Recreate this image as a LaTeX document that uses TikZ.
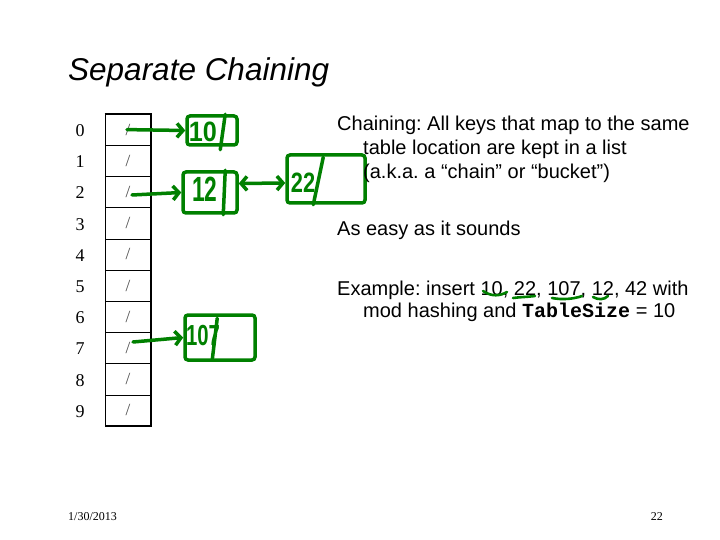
\documentclass[tikz,border=0pt]{standalone}
\usepackage{fontspec}
\setmainfont{Liberation Sans}
\newfontfamily\tnr{Liberation Serif}
\newfontfamily\cour{Liberation Mono}
\newfontfamily\handA[FakeStretch=0.9]{Liberation Sans}
\newfontfamily\handB[FakeStretch=0.65]{Liberation Sans}
\newfontfamily\handC[FakeStretch=0.78]{Liberation Sans}
\newfontfamily\handD[FakeStretch=0.7]{Liberation Sans}
\usetikzlibrary{arrows.meta,calc}
\definecolor{ink}{RGB}{0,128,0}
\frenchspacing
\begin{document}
\begin{tikzpicture}[x=1pt,y=-1pt,
 cell/.style={draw, line width=0.6pt, minimum width=46pt, minimum height=31.2pt, inner sep=0pt, font=\tnr\fontsize{17}{17}\selectfont, text=black!70},
 idx/.style={font=\tnr\fontsize{18}{18}\selectfont, anchor=center, inner sep=0pt},
 body/.style={anchor=base west, font=\fontsize{20}{24}\selectfont, inner sep=0pt},
 inkbox/.style={draw=ink, line width=3.5pt, rounded corners=3pt, inner sep=0pt},
 inktxt/.style={text=ink, inner sep=0pt},
 inkhead/.tip={Straight Barb[length=6pt,width=14pt,line width=3.5pt]},
 inkarrow/.style={draw=ink, line width=3.5pt, -inkhead, line cap=round},
 inkline/.style={draw=ink, line width=3.5pt, line cap=round},
]
\useasboundingbox (0,0) rectangle (720,540);
\fill[white] (0,0) rectangle (720,540);

% title
\node[anchor=base west, inner sep=0pt, font=\itshape\fontsize{31.5}{31.5}\selectfont] (title) at (68,81) {Separate Chaining};

% table
\foreach \i in {0,...,9} {
  \node[cell] (c\i) at (128, 129.6+31.2*\i) {/};
  \node[idx] (i\i) at (80, 130.6+31.2*\i) {\i};
}
\draw[line width=1.8pt] (c0.north west) -- (c0.north east) -- (c9.south east) -- (c9.south west);

% chain boxes
\node[inkbox, minimum width=50pt, minimum height=29pt] (b10) at (212,130.5) {};
\node[inktxt, font=\handA\bfseries\fontsize{28}{28}\selectfont] (t10) at (203,132) {10};
\draw[inkline] ($(b10.north west)+(40,0)$) -- ($(b10.south west)+(35,3)$);

\node[inkbox, minimum width=54pt, minimum height=41pt] (b12) at (210,192.5) {};
\node[inktxt, font=\handB\bfseries\fontsize{35}{35}\selectfont] (t12) at (205,189) {12};
\draw[inkline] ($(b12.north west)+(44,0)$) -- ($(b12.south west)+(42,0)$);

\node[inkbox, minimum width=78pt, minimum height=48pt] (b22) at (326,179) {};
\node[inktxt, font=\handC\bfseries\fontsize{28}{28}\selectfont] (t22) at (303,183) {22};
\draw[inkline] ($(b22.north west)+(38,4)$) -- ($(b22.south west)+(28,0)$);

\node[inkbox, minimum width=70pt, minimum height=45pt] (b107) at (220,337.5) {};
\node[inktxt, font=\handD\bfseries\fontsize{29}{29}\selectfont] (t107) at (203,336) {107};
\draw[inkline] ($(b107.north west)+(34,5)$) -- ($(b107.south west)+(29,-2)$);

% arrows
\draw[inkarrow] ([xshift=-1pt]c0.center) -- (b10.west);
\draw[inkarrow] ([xshift=4pt,yshift=-3pt]c2.center) -- (b12.west);
\draw[inkarrow] ([xshift=5pt,yshift=6pt]c7.center) -- (b107.west);
\draw[inkarrow, inkhead-inkhead] ([yshift=9pt]b12.east) -- ([yshift=-4pt]b22.west);

% text
\node[body] (l1) at (337,131) {Chaining: All keys that map to the same};
\node[body] (l2) at (363,155) {table location are kept in a list};
\node[body] (l3) at (363,179) {(a.k.a. a “chain” or “bucket”)};
\node[body] (l4) at (337,236) {As easy as it sounds};
\node[body] (l5) at (337,295) {Example: insert 10, 22, 107, 12, 42 with};
\node[body] (l6) at (363,317) {mod hashing and {\cour\bfseries TableSize} = 10};

% green underlines
\draw[inkline, line width=2.6pt] (483,291) .. controls (492,297) and (500,296) .. (507,292);
\draw[inkline, line width=2.6pt] (513,298) .. controls (520,297) and (528,297) .. (535,296);
\draw[inkline, line width=2.6pt] (552,298) .. controls (562,300) and (574,299) .. (582,296);
\draw[inkline, line width=2.6pt] (593,297) .. controls (598,300) and (604,300) .. (608,296);

% footer
\node[anchor=base west, inner sep=0pt, font=\tnr\fontsize{12}{12}\selectfont] (date) at (68,520) {1/30/2013};
\node[anchor=base east, inner sep=0pt, font=\tnr\fontsize{12}{12}\selectfont] (pg) at (663,520) {22};
\end{tikzpicture}
\end{document}
